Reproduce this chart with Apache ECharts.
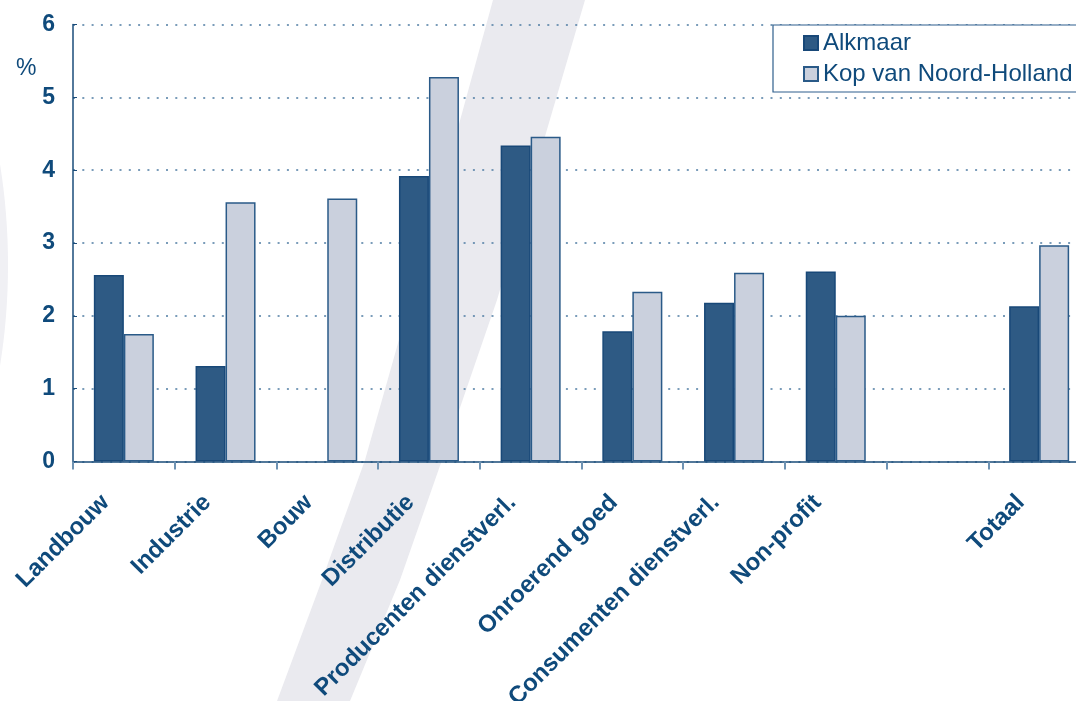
<!DOCTYPE html>
<html>
<head>
<meta charset="utf-8">
<script src="https://cdn.jsdelivr.net/npm/echarts@6/dist/echarts.min.js"></script>
<style>
  html, body { margin: 0; padding: 0; background: #ffffff; overflow: hidden; }
  /* the plot area runs slightly past the right edge of the window */
  #chart { width: 1090px; height: 701px; }
</style>
</head>
<body>
<div id="chart"></div>
<script>
// Sectors (one empty slot separates the sectors from the total)
const categories = [
  'Landbouw', 'Industrie', 'Bouw', 'Distributie', 'Producenten dienstverl.',
  'Onroerend goed', 'Consumenten dienstverl.', 'Non-profit', '', 'Totaal'
];
// Growth in %, per region
const alkmaar = [2.56, 1.31, null, 3.92, 4.34, 1.79, 2.18, 2.61, null, 2.13];
const kopVanNoordHolland = [1.75, 3.56, 3.61, 5.28, 4.46, 2.33, 2.59, 2.00, null, 2.97];
const seriesNames = ['Alkmaar', 'Kop van Noord-Holland'];
const yTicks = { min: 0, max: 6, interval: 1 };
const unitLabel = '%';

const NAVY = '#0f4a7b';
const FONT = '"Liberation Sans", Arial, sans-serif';

const chart = echarts.init(document.getElementById('chart'), null, { renderer: 'canvas' });

chart.setOption({
  animation: false,
  backgroundColor: '#ffffff',
  textStyle: { fontFamily: FONT },
  graphic: [
    // faint arc on the left edge
    {
      type: 'ellipse', z: -20, silent: true,
      shape: { cx: -242, cy: 265, rx: 250, ry: 400 },
      style: { fill: '#f0f0f4' }
    },
    // diagonal backdrop stroke
    {
      type: 'polygon', z: -20, silent: true,
      shape: {
        points: [
          [493, 0], [430, 230], [365, 460], [322, 580], [277, 701],
          [350, 701], [400, 580], [442, 460], [497, 300], [585, 0]
        ]
      },
      style: { fill: '#eaeaef' }
    },
    {
      type: 'text', left: 16, top: 57, silent: true,
      style: { text: unitLabel, fill: NAVY, font: '23px ' + FONT }
    }
  ],
  // long labels may run off the bottom edge; keep the plot area fixed
  grid: { left: 73, top: 24.5, right: 0, bottom: 239.5, containLabel: false, outerBoundsMode: 'none' },
  legend: {
    orient: 'vertical',
    left: 773, top: 25,
    padding: [6, 10, 6, 30],
    itemGap: 7,
    itemWidth: 14, itemHeight: 14,
    backgroundColor: '#ffffff',
    borderColor: '#2f5f8d', borderWidth: 1.2,
    textStyle: { color: NAVY, fontSize: 24, lineHeight: 24, fontFamily: FONT },
    data: seriesNames.map(n => ({ name: n, icon: 'rect' }))
  },
  xAxis: {
    type: 'category',
    data: categories,
    boundaryGap: true,
    axisLine: { lineStyle: { color: '#1a4c7a', width: 1.5 } },
    axisTick: { show: true, length: 8, lineStyle: { color: '#6f93b3', width: 2 } },
    axisLabel: {
      interval: 0, rotate: 45, margin: 19,
      padding: [0, 26, 0, 0],
      color: NAVY, fontSize: 24, fontWeight: 'bold', fontFamily: FONT
    },
    splitLine: { show: false }
  },
  yAxis: {
    type: 'value',
    min: yTicks.min, max: yTicks.max, interval: yTicks.interval,
    axisLine: { show: true, lineStyle: { color: '#1a4c7a', width: 1.5 } },
    axisTick: { show: true, inside: true, length: 4, lineStyle: { color: '#1a4c7a' } },
    axisLabel: { margin: 18, color: NAVY, fontSize: 23, fontWeight: 'bold', fontFamily: FONT },
    splitLine: { show: true, lineStyle: { color: '#4f7ca3', width: 1.5, type: [2, 7.3] } }
  },
  series: [
    {
      name: seriesNames[0], type: 'bar', data: alkmaar,
      barWidth: 30, barGap: '0%',
      itemStyle: { color: '#2e5a84', borderColor: '#184878', borderWidth: 1.5 }
    },
    {
      name: seriesNames[1], type: 'bar', data: kopVanNoordHolland,
      barWidth: 30, barGap: '0%',
      itemStyle: { color: '#cad0dd', borderColor: '#2a5a88', borderWidth: 1.5 }
    }
  ]
});
</script>
</body>
</html>
